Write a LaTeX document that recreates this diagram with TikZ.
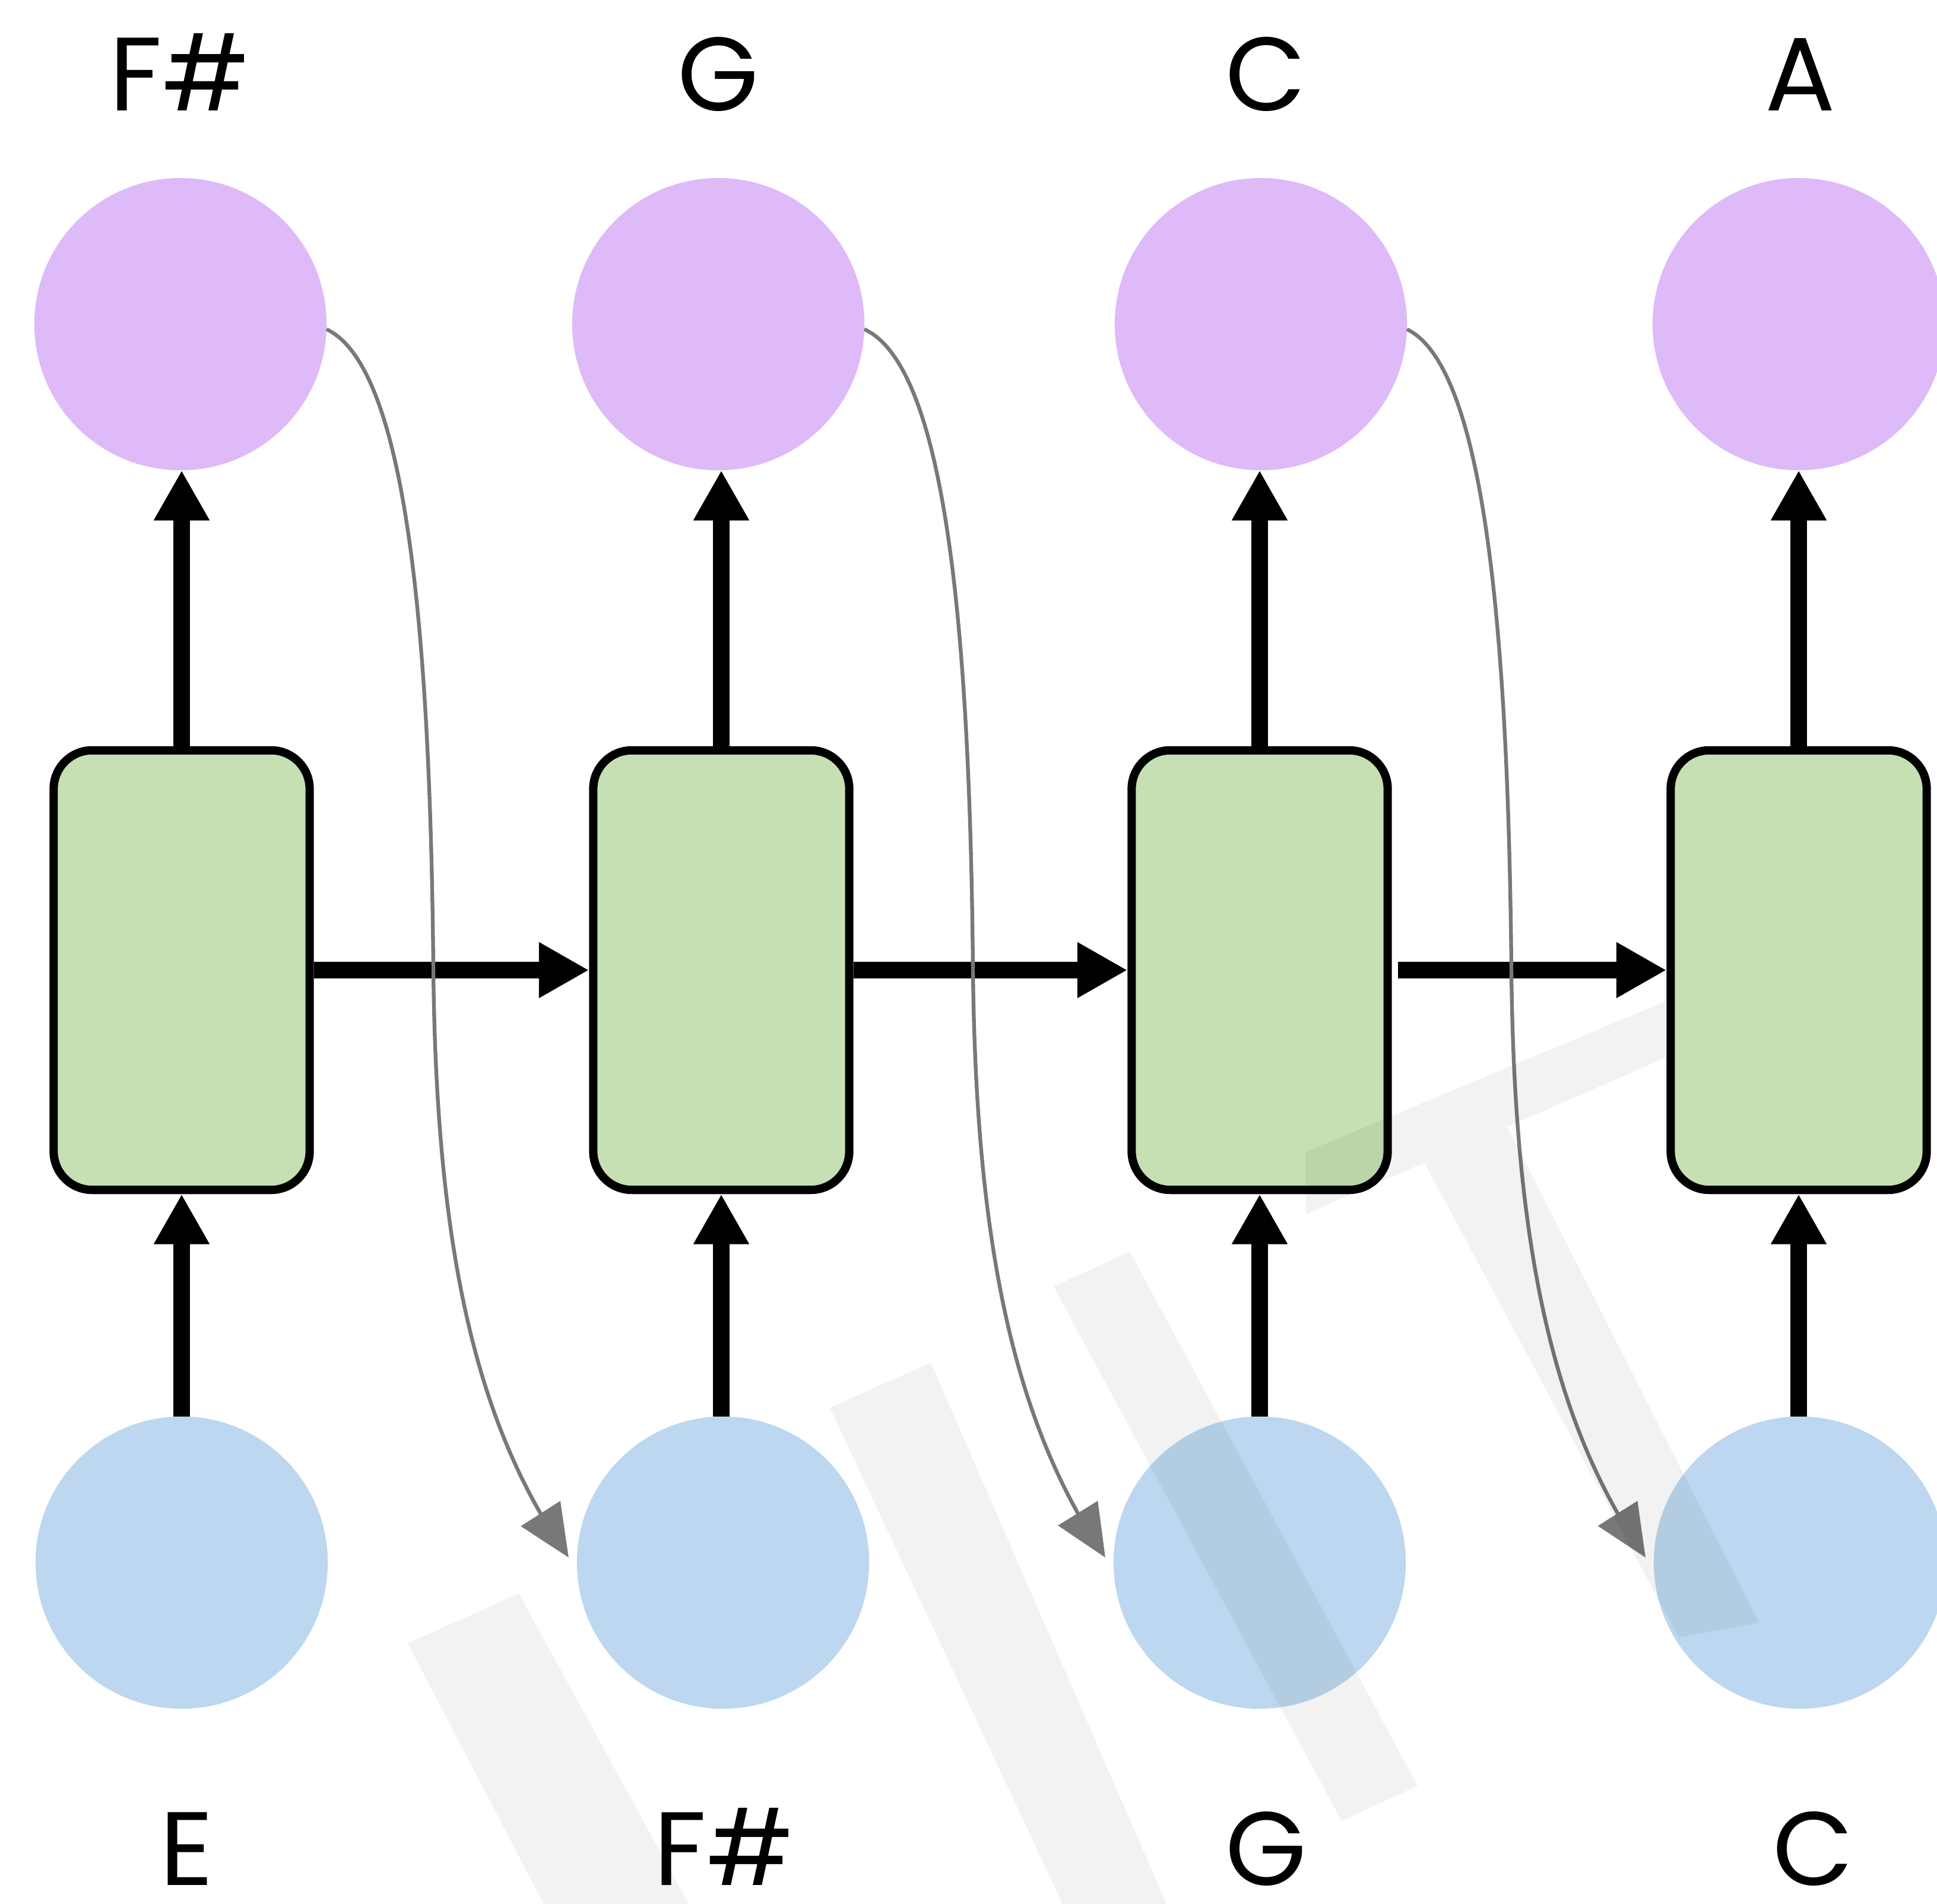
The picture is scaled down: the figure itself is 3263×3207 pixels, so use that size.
\documentclass[tikz,border=0pt]{standalone}
\usepackage{fontspec}
\setmainfont{Poppins}
\usetikzlibrary{arrows.meta,bending}
\definecolor{cpurple}{HTML}{DEBAF9}
\definecolor{cblue}{HTML}{BCD7EF}
\definecolor{cgreen}{HTML}{C6E0B4}
\definecolor{cgray}{HTML}{787878}
\begin{document}
\begin{tikzpicture}[x=0.01cm,y=-0.01cm,
  outcirc/.style={circle,fill=cpurple,minimum size=4.92cm,inner sep=0pt,outer sep=0pt},
  incirc/.style={circle,fill=cblue,minimum size=4.92cm,inner sep=0pt,outer sep=0pt},
  cell/.style={rectangle,rounded corners=0.65cm,draw=black,line width=4pt,fill=cgreen,minimum width=4.31cm,minimum height=7.4cm,inner sep=0pt},
  lbl/.style={font=\fontsize{50}{56}\selectfont,anchor=base,inner sep=0pt},
  flow/.style={line width=8.2pt,-{Triangle[length=24pt,width=25pt]}},
  feed/.style={cgray,line width=1.8pt,-{Triangle[length=25pt,width=22pt,flex]}},
  wm/.style={fill=black,fill opacity=0.05}]
\useasboundingbox (0,0) rectangle (3263,3207);
\fill[white] (0,0) rectangle (3263,3207);

% output circles
\node[outcirc] (p1) at (304,546) {};
\node[outcirc] (p2) at (1210,546) {};
\node[outcirc] (p3) at (2124,546) {};
\node[outcirc] (p4) at (3030,546) {};
% cells
\node[cell] (b1) at (306,1634) {};
\node[cell] (b2) at (1215,1634) {};
\node[cell] (b3) at (2122,1634) {};
\node[cell] (b4) at (3030,1634) {};
% input circles
\node[incirc] (q1) at (306,2632) {};
\node[incirc] (q2) at (1218,2632) {};
\node[incirc] (q3) at (2122,2632) {};
\node[incirc] (q4) at (3032,2632) {};

% labels
\node[lbl] (t1) at (303,187) {F\#};
\node[lbl] (t2) at (1210,187) {G};
\node[lbl] (t3) at (2132,187) {C};
\node[lbl] (t4) at (3033,187) {A};
\node[lbl] (s1) at (315,3175) {E};
\node[lbl] (s2) at (1220,3175) {F\#};
\node[lbl] (s3) at (2133,3175) {G};
\node[lbl] (s4) at (3054,3175) {C};

% vertical arrows
\foreach \i in {1,2,3,4}{
  \draw[flow] (b\i.north) -- (b\i.north |- p\i.south);
  \draw[flow] (q\i.north -| b\i.south) -- (b\i.south);
}
% horizontal arrows
\draw[flow] (b1.east) -- (b2.west);
\draw[flow] (b2.east) -- (b3.west);
\draw[flow] ([xshift=3pt]b3.east) -- (b4.west);

% feedback curves
\foreach \i/\j/\dx in {1/2/0, 2/3/909, 3/4/1816}{
  \draw[feed] (p\i.-2) .. controls ({690+\dx},620) and ({725+\dx},1100) .. ({730+\dx},1634)
     .. controls ({735+\dx},2100) and ({800+\dx},2400) .. ([xshift=-4pt]q\j.178);
}

% faint watermark
\fill[wm] (687,2768) -- (874,2684) -- (1160,3207) -- (916,3207) -- cycle
  (1398,2371) -- (1568,2295) -- (1965,3207) -- (1790,3207) -- cycle
  (1775,2167) -- (1903,2108) -- (2388,3008) -- (2260,3067) -- cycle
  (2200,1940) -- (2805,1687) -- (2805,1782) -- (2200,2045) -- cycle
  (2395,1950) -- (2530,1880) -- (2963,2733) -- (2828,2758) -- cycle;
\end{tikzpicture}
\end{document}
